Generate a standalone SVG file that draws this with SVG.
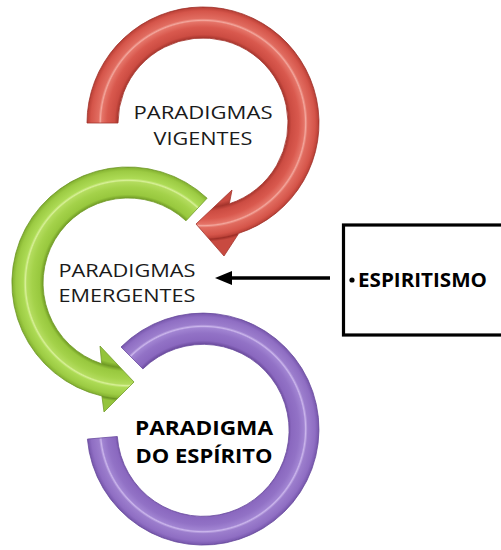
<svg xmlns="http://www.w3.org/2000/svg" width="501" height="550" viewBox="0 0 501 550">
  <style>
    .lbl { font-family: "Open Sans", "Noto Sans", "Liberation Sans", sans-serif; font-size: 19px; fill: #1a1a1a; text-anchor: middle; }
    .bold { font-weight: bold; fill: #000; }
    .box { fill: #ffffff; stroke: #000; stroke-width: 3.2; }
    .conn { stroke: #000; stroke-width: 3.6; fill: none; }
  </style>
  <defs>
    <radialGradient id="gRed" gradientUnits="userSpaceOnUse" cx="203" cy="123" r="135">
      <stop offset="0" stop-color="#c84a40"/>
      <stop offset="0.6" stop-color="#c84a40"/>
      <stop offset="0.628" stop-color="#a4342c"/>
      <stop offset="0.655" stop-color="#cc4c42"/>
      <stop offset="0.71" stop-color="#d9594e"/>
      <stop offset="0.75" stop-color="#e57468"/>
      <stop offset="0.76" stop-color="#f3a79d"/>
      <stop offset="0.775" stop-color="#e16c60"/>
      <stop offset="0.83" stop-color="#d5554a"/>
      <stop offset="0.852" stop-color="#bf443a"/>
      <stop offset="0.862" stop-color="#9e2f28"/>
      <stop offset="0.88" stop-color="#c84a40"/>
      <stop offset="1" stop-color="#c84a40"/>
    </radialGradient>
    <radialGradient id="gGreen" gradientUnits="userSpaceOnUse" cx="128" cy="283" r="135">
      <stop offset="0" stop-color="#94c43c"/>
      <stop offset="0.6" stop-color="#94c43c"/>
      <stop offset="0.628" stop-color="#6f9a24"/>
      <stop offset="0.655" stop-color="#98c83e"/>
      <stop offset="0.71" stop-color="#a4d24a"/>
      <stop offset="0.75" stop-color="#b3dc5e"/>
      <stop offset="0.76" stop-color="#d8f098"/>
      <stop offset="0.775" stop-color="#addb55"/>
      <stop offset="0.83" stop-color="#9ccb43"/>
      <stop offset="0.852" stop-color="#88b634"/>
      <stop offset="0.862" stop-color="#6a9423"/>
      <stop offset="0.88" stop-color="#94c43c"/>
      <stop offset="1" stop-color="#94c43c"/>
    </radialGradient>
    <radialGradient id="gPurple" gradientUnits="userSpaceOnUse" cx="203" cy="429" r="135">
      <stop offset="0" stop-color="#8a68bd"/>
      <stop offset="0.6" stop-color="#8a68bd"/>
      <stop offset="0.628" stop-color="#6a4a9c"/>
      <stop offset="0.655" stop-color="#8a68bf"/>
      <stop offset="0.71" stop-color="#9272c6"/>
      <stop offset="0.75" stop-color="#a184d2"/>
      <stop offset="0.76" stop-color="#cbb6ec"/>
      <stop offset="0.775" stop-color="#9c7ecd"/>
      <stop offset="0.83" stop-color="#8f6ec3"/>
      <stop offset="0.852" stop-color="#7c5cb1"/>
      <stop offset="0.862" stop-color="#64469a"/>
      <stop offset="0.88" stop-color="#8a68bd"/>
      <stop offset="1" stop-color="#8a68bd"/>
    </radialGradient>
    <marker id="ah" viewBox="0 0 17 14" refX="0" refY="7" markerWidth="17" markerHeight="14" markerUnits="userSpaceOnUse" orient="auto">
      <path d="M0,0 L17,7 L0,14 Z" fill="#000"/>
    </marker>
  </defs>
  <rect x="0" y="0" width="501" height="550" fill="#ffffff"/>

  <g id="node-vigentes">
    <path d="M87,123 A116,116 0 1 1 238.8,233.3 L224,256 L196,224 L232,190 L229.3,203.8 A85,85 0 1 0 118,123 Z" fill="url(#gRed)" stroke="#a3352d" stroke-width="0.8"/>
    <text class="lbl" x="203" y="119" textLength="139" lengthAdjust="spacingAndGlyphs">PARADIGMAS</text>
    <text class="lbl" x="203" y="145" textLength="99" lengthAdjust="spacingAndGlyphs">VIGENTES</text>
  </g>

  <g id="node-emergentes">
    <path d="M207.1,198.2 A116,116 0 1 0 101.9,396 L104,412 L134,382 L100,346 L101.7,363.8 A85,85 0 1 1 186,220.8 Z" fill="url(#gGreen)" stroke="#729c2a" stroke-width="0.8"/>
    <text class="lbl" x="127" y="277" textLength="137" lengthAdjust="spacingAndGlyphs">PARADIGMAS</text>
    <text class="lbl" x="127" y="302" textLength="137" lengthAdjust="spacingAndGlyphs">EMERGENTES</text>
  </g>

  <g id="node-espirito">
    <path d="M87.4,439.1 A116,116 0 1 0 121,347 L142.9,368.9 A86,86 0 1 1 117.3,436.5 Z" fill="url(#gPurple)" stroke="#6b4d9f" stroke-width="0.8"/>
    <text class="lbl bold" x="204" y="435" font-size="23" textLength="138" lengthAdjust="spacingAndGlyphs">PARADIGMA</text>
    <text class="lbl bold" x="204" y="463" font-size="23" textLength="137" lengthAdjust="spacingAndGlyphs">DO ESPÍRITO</text>
  </g>

  <g id="node-espiritismo">
    <rect class="box" x="343.5" y="225" width="175" height="110"/>
    <circle cx="352" cy="280" r="2.6" fill="#000"/>
    <text class="lbl bold" x="358" y="287" font-size="20" style="text-anchor:start" textLength="129" lengthAdjust="spacingAndGlyphs">ESPIRITISMO</text>
  </g>

  <g id="connectors">
    <line class="conn" x1="330" y1="278" x2="232" y2="278" marker-end="url(#ah)"/>
  </g>
</svg>
